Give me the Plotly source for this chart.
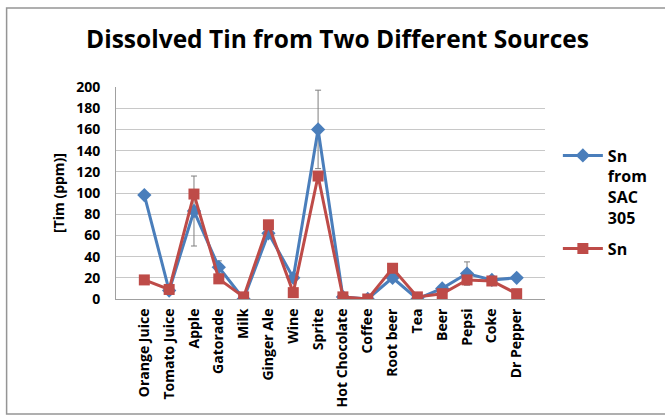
import plotly.graph_objects as go

categories = ["Orange Juice", "Tomato Juice", "Apple", "Gatorade", "Milk", "Ginger Ale",
              "Wine", "Sprite", "Hot Chocolate", "Coffee", "Root beer", "Tea", "Beer",
              "Pepsi", "Coke", "Dr Pepper"]
sn_sac305 = [98, 8, 83, 30, 0, 62, 20, 160, 2, 0, 20, 0, 10, 24, 18, 20]
sn_sac305_err = [0, 0, 33, 6, 0, 0, 0, 37, 0, 0, 0, 0, 0, 11, 0, 0]
sn = [18, 9, 99, 19, 2, 70, 6, 116, 2, 0, 29, 2, 5, 18, 17, 5]
y_ticks = [0, 20, 40, 60, 80, 100, 120, 140, 160, 180, 200]

BLUE = "#4A7EBB"
RED = "#BE4B48"
FONT = "Open Sans"

fig = go.Figure()
fig.add_trace(go.Scatter(
    x=categories, y=sn_sac305, name="Sn<br>from<br>SAC<br>305",
    legendgroup="a",
    mode="lines+markers",
    line=dict(color=BLUE, width=3),
    marker=dict(symbol="diamond", size=11, color=BLUE),
    error_y=dict(type="data", array=sn_sac305_err, visible=True,
                 color="#7f7f7f", thickness=1, width=3),
))
fig.add_trace(go.Scatter(
    x=categories, y=sn, name="Sn",
    legendgroup="b",
    mode="lines+markers",
    line=dict(color=RED, width=3),
    marker=dict(symbol="square", size=11, color=RED),
))

fig.update_layout(
    width=665, height=416,
    margin=dict(l=116, r=118, t=87, b=117),
    paper_bgcolor="white", plot_bgcolor="white",
    font=dict(family=FONT, color="black"),
    title=dict(text="<b>Dissolved Tin from Two Different Sources</b>",
               x=0.5075, xanchor="center", y=0.905, yanchor="middle",
               font=dict(size=24.5, family=FONT, color="black")),
    xaxis=dict(type="category", tickangle=-90, showgrid=False, automargin=False,
               showline=True, linecolor="#a0a0a0", linewidth=1,
               ticks="", ticklabelstandoff=3,
               tickfont=dict(size=14, family=FONT, color="black", weight="bold")),
    yaxis=dict(range=[0, 200], tickvals=y_ticks, showgrid=True, automargin=False,
               gridcolor="#c8c8c8", gridwidth=1,
               showline=True, linecolor="#a0a0a0", linewidth=1,
               ticks="", zeroline=False, ticklabelstandoff=12,
               tickfont=dict(size=14, family=FONT, color="black", weight="bold"),
               title=dict(text="<b>[Tim (ppm)]</b>", standoff=8,
                          font=dict(size=14, family=FONT, color="black"))),
    legend=dict(x=1.03, y=0.757, xanchor="left", yanchor="top", valign="top",
                font=dict(size=16, family=FONT, color="black", weight="bold"),
                tracegroupgap=7, itemwidth=40, bgcolor="rgba(0,0,0,0)"),
    showlegend=True,
    shapes=[dict(type="rect", xref="paper", yref="paper",
                 x0=-0.255, x1=1.3, y0=-0.542, y1=1.373,
                 line=dict(color="#959595", width=1.5))],
)

fig.write_html("out.html", config={"displayModeBar": False},
               post_script="document.body.style.margin='0';")
